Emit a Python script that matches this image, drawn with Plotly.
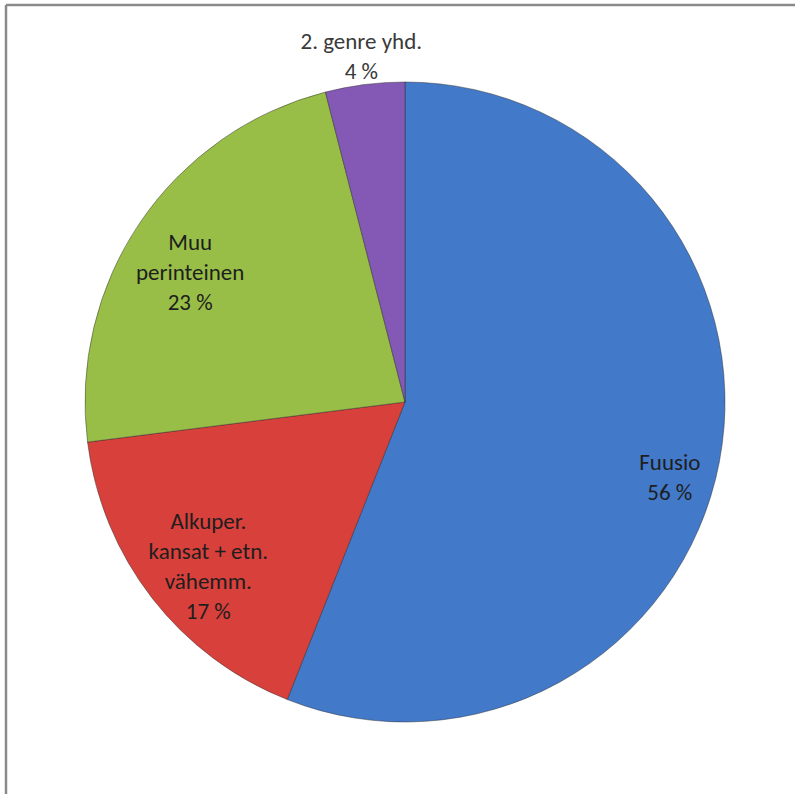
import plotly.graph_objects as go

labels = ["Fuusio", "Alkuper.<br>kansat + etn.<br>vähemm.", "Muu<br>perinteinen", "2. genre yhd."]
values = [56, 17, 23, 4]
colors = ["#4279C9", "#D8403C", "#98BE48", "#8459B5"]

W, H = 795, 794
cx, cy, r = 405, 402, 320
font_family = "Carlito, Calibri, Open Sans, Noto Sans, sans-serif"
FS = 23


def dom(rad):
    return dict(x=[(cx - rad) / W, (cx + rad) / W], y=[1 - (cy + rad) / H, 1 - (cy - rad) / H])


# filled slices
fig = go.Figure(go.Pie(
    labels=labels,
    values=values,
    sort=False,
    direction="clockwise",
    rotation=0,
    marker=dict(colors=colors, line=dict(color="rgba(40,40,40,0.45)", width=1)),
    textinfo="none",
    hoverinfo="label+percent",
    showlegend=False,
    domain=dom(r),
))

# transparent label layers: (slice index, layer radius, hole fraction, angle nudge, text colour)
label_layers = [
    (0, r, 0.72, 5, "#1e1e1e"),
    (1, r, 0.60, -2, "#1e1e1e"),
    (2, r, 0.57, -3, "#1e1e1e"),
    (3, 380, 0.835, 0, "#3a3a3a"),
]
for idx, rad, hole, nudge, col in label_layers:
    fig.add_trace(go.Pie(
        labels=labels,
        values=values,
        sort=False,
        direction="clockwise",
        rotation=nudge,
        hole=hole,
        marker=dict(colors=["rgba(0,0,0,0)"] * len(values), line=dict(width=0)),
        texttemplate=["%{label}<br>%{value} %" if i == idx else "" for i in range(len(values))],
        textposition=["inside" if i == idx else "none" for i in range(len(values))],
        insidetextorientation="horizontal",
        textfont=dict(family=font_family, size=FS, color=col),
        hoverinfo="skip",
        showlegend=False,
        domain=dom(rad),
    ))

fig.update_layout(
    width=W, height=H,
    margin=dict(l=0, r=0, t=0, b=0),
    paper_bgcolor="white",
    plot_bgcolor="white",
    uniformtext=dict(minsize=FS, mode="show"),
    shapes=[
        dict(type="line", xref="paper", yref="paper", x0=6 / W, x1=1, y0=1 - 5 / H, y1=1 - 5 / H,
             line=dict(color="#8a8a8a", width=2.5)),
        dict(type="line", xref="paper", yref="paper", x0=6 / W, x1=6 / W, y0=0, y1=1 - 5 / H,
             line=dict(color="#8a8a8a", width=2.5)),
    ],
)

fig.write_html(
    "out.html",
    config=dict(displayModeBar=False),
    post_script="document.body.style.margin='0';document.body.style.overflow='hidden';",
)
